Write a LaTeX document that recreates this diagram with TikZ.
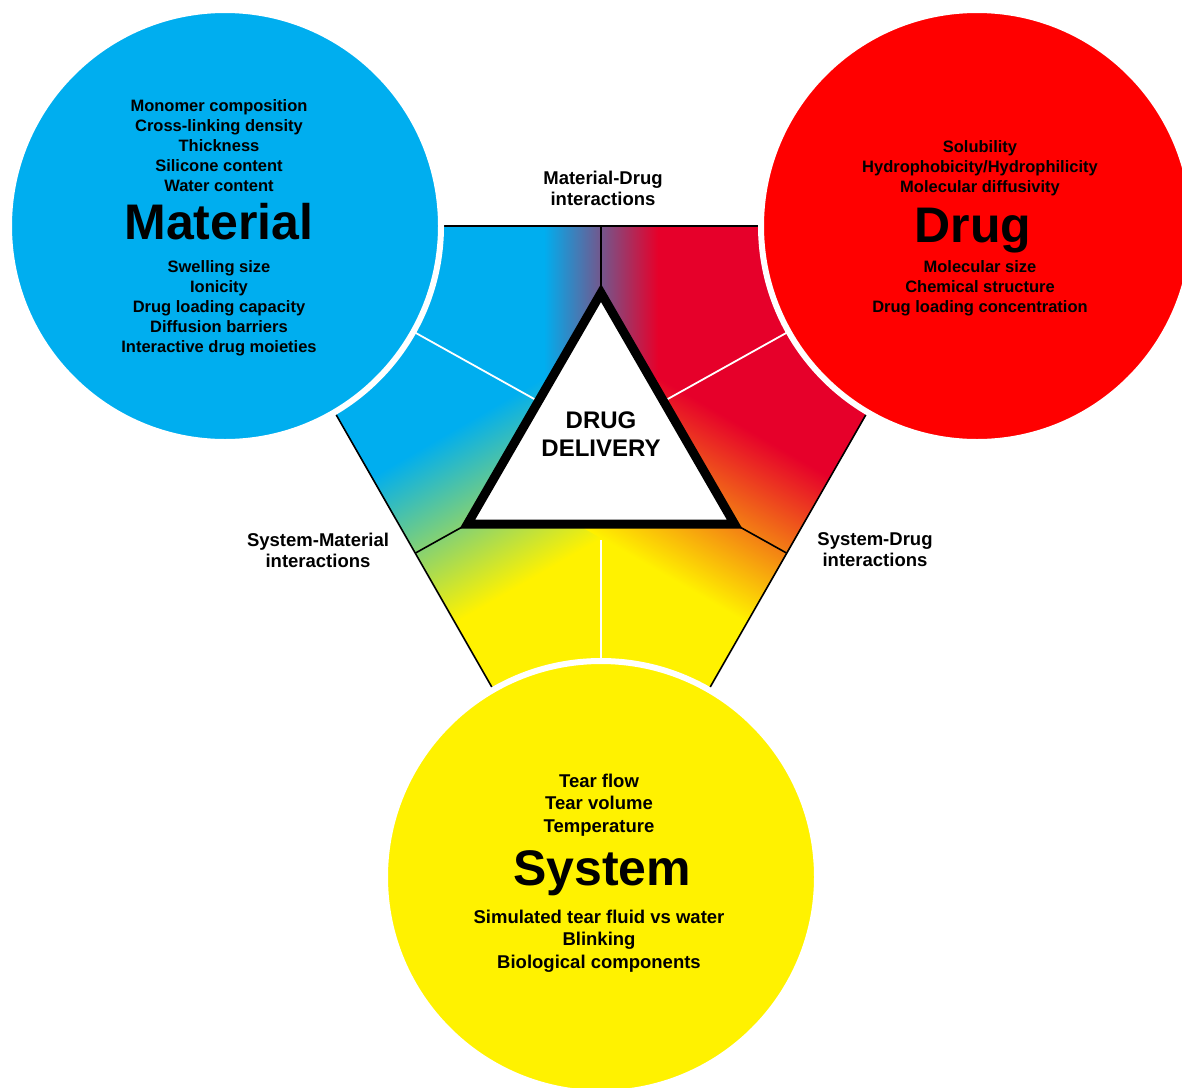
\documentclass[tikz,border=0pt]{standalone}
\usepackage{fontspec}
\setmainfont{Liberation Sans}
\usepackage{xcolor}
\usetikzlibrary{calc}

\definecolor{matblue}{RGB}{0,174,239}
\definecolor{drugred}{RGB}{255,0,0}
\definecolor{hexred}{RGB}{230,0,42}
\definecolor{sysyellow}{RGB}{255,242,0}
\definecolor{mixpurple}{RGB}{110,95,150}
\definecolor{mixgreen}{RGB}{100,192,125}
\definecolor{mixorange}{RGB}{243,125,20}

\tikzset{
  bubble/.style={circle, minimum size=432pt, inner sep=0pt, draw=white, line width=6pt},
  itemlist/.style={align=center, font=\fontsize{16.5}{20}\selectfont\bfseries},
  syslist/.style={align=center, font=\fontsize{18.5}{22.7}\selectfont\bfseries},
  bigtitle/.style={anchor=base, font=\fontsize{50}{60}\selectfont\bfseries},
  linklabel/.style={align=center, font=\fontsize{18.5}{21}\selectfont\bfseries},
  divider/.style={white, line width=1.8pt},
  edgeline/.style={black, line width=1.6pt},
}

\begin{document}
\begin{tikzpicture}[x=1pt, y=-1pt]
  \useasboundingbox (0,0) rectangle (1182,1087);

  % Hexagon corners (hidden under the circles)
  \coordinate (hA) at (441,226);
  \coordinate (hB) at (761,226);
  \coordinate (hC) at (868,411);
  \coordinate (hD) at (708.5,690);
  \coordinate (hE) at (493.5,690);
  \coordinate (hF) at (334,411);

  % Triangle corners
  \coordinate (tTop) at (601,293);
  \coordinate (tLeft) at (467.5,524);
  \coordinate (tRight) at (734.5,524);

  % Where the sectors meet the hexagon
  \coordinate (mTop) at (601,226);
  \coordinate (mLeft) at (415.5,553);
  \coordinate (mRight) at (786.5,553);

  % Ends of the white dividers
  \coordinate (wLeftIn) at (545,405);
  \coordinate (wLeftOut) at (380,313);
  \coordinate (wRightIn) at (657,405);
  \coordinate (wRightOut) at (822,313);
  \coordinate (wDownIn) at (601,540);
  \coordinate (wDownOut) at (601,690);

  % Sectors
  \fill[matblue] (mTop) -- (hA) -- (hF) -- (mLeft) -- (tLeft) -- (tTop) -- cycle;
  \fill[hexred] (mTop) -- (hB) -- (hC) -- (mRight) -- (tRight) -- (tTop) -- cycle;
  \fill[sysyellow] (mLeft) -- (hE) -- (hD) -- (mRight) -- (tRight) -- (tLeft) -- cycle;

  % Blends between sectors
  \begin{scope}
    \clip (hA) -- (hB) -- (hC) -- (hD) -- (hE) -- (hF) -- cycle;
    \shade[left color=matblue, middle color=mixpurple, right color=hexred] (544,226) rectangle (658,400);
    \begin{scope}[transform canvas={shift={(mLeft)}, rotate=-60}]
      \shade[left color=matblue, middle color=mixgreen, right color=sysyellow] (-88,-250) rectangle (80,20);
    \end{scope}
    \begin{scope}[transform canvas={shift={(mRight)}, rotate=-120}]
      \shade[left color=hexred, middle color=mixorange, right color=sysyellow] (-88,-20) rectangle (80,250);
    \end{scope}
  \end{scope}

  % Dividers and outline
  \draw[divider] (wLeftIn) -- (wLeftOut);
  \draw[divider] (wRightIn) -- (wRightOut);
  \draw[divider] (wDownIn) -- (wDownOut);
  \draw[edgeline] (mTop) -- (tTop);
  \draw[edgeline] (mLeft) -- (tLeft);
  \draw[edgeline] (mRight) -- (tRight);
  \draw[edgeline] (hA) -- (hB) -- (hC) -- (hD) -- (hE) -- (hF) -- cycle;

  % Centre triangle
  \draw[line width=9pt, fill=white] (tTop) -- (tLeft) -- (tRight) -- cycle;
  \node[font=\fontsize{24}{28}\selectfont\bfseries, align=center] (core) at (601,434) {DRUG\\DELIVERY};

  % Circles
  \node[bubble, fill=matblue] (material) at (225,226) {};
  \node[bubble, fill=drugred] (drug) at (977,226) {};
  \node[bubble, fill=sysyellow] (system) at (601,877) {};

  % Material
  \node[itemlist] (matTop) at (219,146) {Monomer composition\\Cross-linking density\\Thickness\\Silicone content\\Water content};
  \node[bigtitle] (matTitle) at (219,239) {Material};
  \node[itemlist] (matBottom) at (219,308) {Swelling size\\Ionicity\\Drug loading capacity\\Diffusion barriers\\Interactive drug moieties};

  % Drug
  \node[itemlist] (drugTop) at (980,168) {Solubility\\Hydrophobicity/Hydrophilicity\\Molecular diffusivity};
  \node[bigtitle] (drugTitle) at (973,242) {Drug};
  \node[itemlist] (drugBottom) at (980,288) {Molecular size\\Chemical structure\\Drug loading concentration};

  % System
  \node[syslist] (sysTop) at (599,805) {Tear flow\\Tear volume\\Temperature};
  \node[bigtitle] (sysTitle) at (602,885) {System};
  \node[syslist] (sysBottom) at (599,941) {Simulated tear fluid vs water\\Blinking\\Biological components};

  % Interactions
  \node[linklabel] (matDrug) at (603,188) {Material-Drug\\interactions};
  \node[linklabel] (sysMat) at (318,550) {System-Material\\interactions};
  \node[linklabel] (sysDrug) at (875,550) {System-Drug\\interactions};
\end{tikzpicture}
\end{document}
